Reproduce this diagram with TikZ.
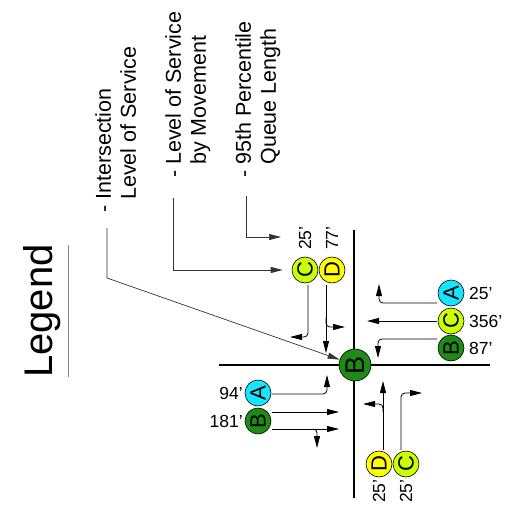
\documentclass[tikz,border=0pt]{standalone}
\usepackage{fontspec}
\setmainfont{Liberation Sans}
\usetikzlibrary{arrows.meta}

\definecolor{losA}{RGB}{20,230,255}
\definecolor{losB}{RGB}{30,140,20}
\definecolor{losC}{RGB}{204,255,0}
\definecolor{losD}{RGB}{255,255,0}

\begin{document}
\begin{tikzpicture}[x=1pt,y=-1pt,
  road/.style={line width=1.8pt},
  lane/.style={line width=0.8pt,rounded corners=4pt,-{Triangle[length=12pt,width=6pt]}},
  leader/.style={line width=0.7pt,draw=black!80,-{Triangle[length=12pt,width=6pt]}},
  los/.style={circle,draw,line width=0.6pt,minimum size=26pt,inner sep=0pt,rotate=90,font=\fontsize{22}{22}\selectfont},
  qlen/.style={font=\fontsize{17.5}{17.5}\selectfont,inner sep=0pt},
  legtext/.style={rotate=90,anchor=north west,align=left,inner sep=0pt,font=\fontsize{21.5}{25}\selectfont}]
\useasboundingbox (0,0) rectangle (507,508);

% legend
\node[rotate=90,anchor=base,inner sep=0pt,font=\fontsize{40}{40}\selectfont] (legtitle) at (52,311) {Legend};
\draw[gray,line width=0.8pt] (68,245) -- (68,377);
\node[legtext] (legint) at (95,213) {- Intersection\\\hphantom{- }Level of Service};
\node[legtext] (legmov) at (165,178) {- Level of Service\\\hphantom{- }by Movement};
\node[legtext] (legque) at (235,178) {- 95th Percentile\\\hphantom{- }Queue Length};

% roads
\draw[road] (219,365) -- (490,365);
\draw[road] (354,230) -- (354,498);

% level of service circles
\node[los,minimum size=32pt,fill=losB,font=\fontsize{27}{27}\selectfont] (nInt) at (355,365) {B};
\node[los,fill=losC] (sbC) at (305,270) {C};
\node[los,fill=losD] (sbD) at (332,270) {D};
\node[los,fill=losA] (wbA) at (451,293) {A};
\node[los,fill=losC] (wbC) at (451,321) {C};
\node[los,fill=losB] (wbB) at (451,348) {B};
\node[los,fill=losA] (ebA) at (258,393) {A};
\node[los,fill=losB] (ebB) at (258,421) {B};
\node[los,fill=losD] (nbD) at (379,464) {D};
\node[los,fill=losC] (nbC) at (406,464) {C};

% queue lengths
\node[qlen,rotate=90,anchor=west] (qsbC) at (305,250) {25'};
\node[qlen,rotate=90,anchor=west] (qsbD) at (332,250) {77'};
\node[qlen,anchor=west] (qwbA) at (469,293) {25'};
\node[qlen,anchor=west] (qwbC) at (469,321) {356'};
\node[qlen,anchor=west] (qwbB) at (469,348) {87'};
\node[qlen,anchor=east] (qebA) at (243,393) {94'};
\node[qlen,anchor=east] (qebB) at (243,421) {181'};
\node[qlen,rotate=90,anchor=west] (qnbD) at (379,503) {25'};
\node[qlen,rotate=90,anchor=west] (qnbC) at (406,503) {25'};

% leaders
\coordinate (qtip) at (281,237);
\draw[leader] (107,228) -- (107,278) -- (nInt);
\draw[leader,shorten >=9pt] (173,198) |- (sbC);
\draw[leader] (246,196) |- (qtip);

% lane arrows
\draw[lane] (308,285) |- (290,337);
\draw[lane] (326,285) -- (326,353);
\draw[lane] (326,318) |- (345,327);
\draw[lane] (437,303) -| (379,284);
\draw[lane] (437,321) -- (367,321);
\draw[lane] (437,339) -| (378,358);
\draw[lane] (272,394) -| (327,375);
\draw[lane] (272,412) -- (339,412);
\draw[lane] (272,429) -- (339,429);
\draw[lane] (313,429) -| (317,448);
\draw[lane] (383,450) -- (383,381);
\draw[lane] (383,412) |- (363,404);
\draw[lane] (401,450) |- (422,393);
\end{tikzpicture}
\end{document}
